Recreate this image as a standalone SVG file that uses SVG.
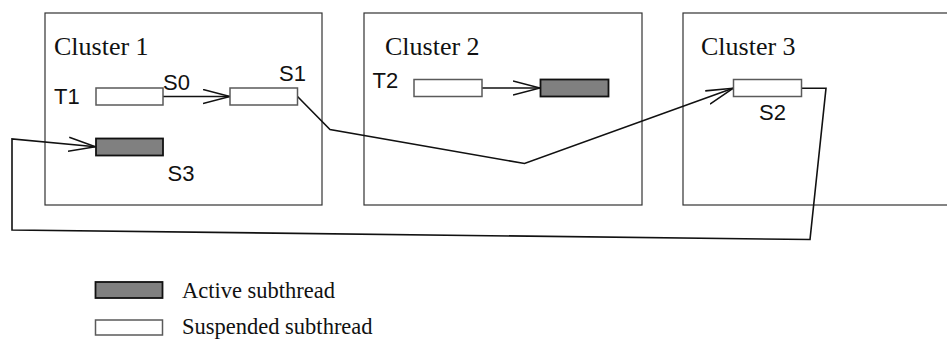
<svg xmlns="http://www.w3.org/2000/svg" width="947" height="341" viewBox="0 0 947 341">
  <style>
    .cluster { fill: #ffffff; stroke: #333333; stroke-width: 1.2; }
    .title { font-family: "Liberation Serif", "Times New Roman", serif; font-size: 26px; fill: #111111; }
    .legend { font-family: "Liberation Serif", "Times New Roman", serif; font-size: 22.5px; fill: #111111; }
    .lbl { font-family: "Liberation Sans", Arial, sans-serif; font-size: 22px; fill: #111111; }
    .susp { fill: #ffffff; stroke: #5a5a5a; stroke-width: 1.5; }
    .act { fill: #808080; stroke: #111111; stroke-width: 1.8; }
    .wire { fill: none; stroke: #111111; stroke-width: 1.6; stroke-linejoin: miter; }
  </style>
  <defs>
    <marker id="open" viewBox="0 0 28 16" refX="27" refY="8" markerWidth="28" markerHeight="16" markerUnits="userSpaceOnUse" orient="auto">
      <path d="M0,1 L27,8 L0,15" fill="none" stroke="#111111" stroke-width="1.6"/>
    </marker>
  </defs>

  <rect width="947" height="341" fill="#ffffff"/>

  <g id="cluster1">
    <rect class="cluster" x="45" y="13" width="277" height="192"/>
    <text class="title" x="54" y="55">Cluster 1</text>
  </g>
  <g id="cluster2">
    <rect class="cluster" x="364" y="13" width="278" height="192"/>
    <text class="title" x="385" y="55">Cluster 2</text>
  </g>
  <g id="cluster3">
    <rect class="cluster" x="683" y="13" width="280" height="192"/>
    <text class="title" x="701" y="55">Cluster 3</text>
  </g>

  <g id="connectors">
    <line class="wire" x1="163" y1="96.5" x2="230" y2="96.5" marker-end="url(#open)"/>
    <line class="wire" x1="482" y1="88" x2="540" y2="88" marker-end="url(#open)"/>
    <polyline class="wire" points="297.5,96.5 330,129.5 524.5,163.5 733,88.3" marker-end="url(#open)"/>
    <polyline class="wire" points="801.5,88.3 826,88.3 810,239.5 12,230 12,139 95.5,146.7" marker-end="url(#open)"/>
  </g>

  <g id="t1">
    <rect class="susp" x="96" y="88" width="67" height="17"/>
    <text class="lbl" x="54" y="104">T1</text>
  </g>
  <g id="s0">
    <text class="lbl" x="163" y="89.5">S0</text>
  </g>
  <g id="s1">
    <rect class="susp" x="230" y="88" width="67.5" height="17"/>
    <text class="lbl" x="279" y="81">S1</text>
  </g>
  <g id="s3">
    <rect class="act" x="96" y="138.5" width="67" height="17"/>
    <text class="lbl" x="167.5" y="181">S3</text>
  </g>
  <g id="t2">
    <rect class="susp" x="414" y="79.5" width="68" height="17"/>
    <text class="lbl" x="372.5" y="87.5">T2</text>
  </g>
  <g id="t2-active">
    <rect class="act" x="540.5" y="79.5" width="68" height="17"/>
  </g>
  <g id="s2">
    <rect class="susp" x="733.5" y="79.5" width="68" height="17"/>
    <text class="lbl" x="759" y="120">S2</text>
  </g>

  <g id="legend-active">
    <rect class="act" x="95.5" y="282" width="67" height="16"/>
    <text class="legend" x="182" y="297.5">Active subthread</text>
  </g>
  <g id="legend-suspended">
    <rect class="susp" x="95.5" y="320" width="67" height="15"/>
    <text class="legend" x="182" y="334">Suspended subthread</text>
  </g>
</svg>
